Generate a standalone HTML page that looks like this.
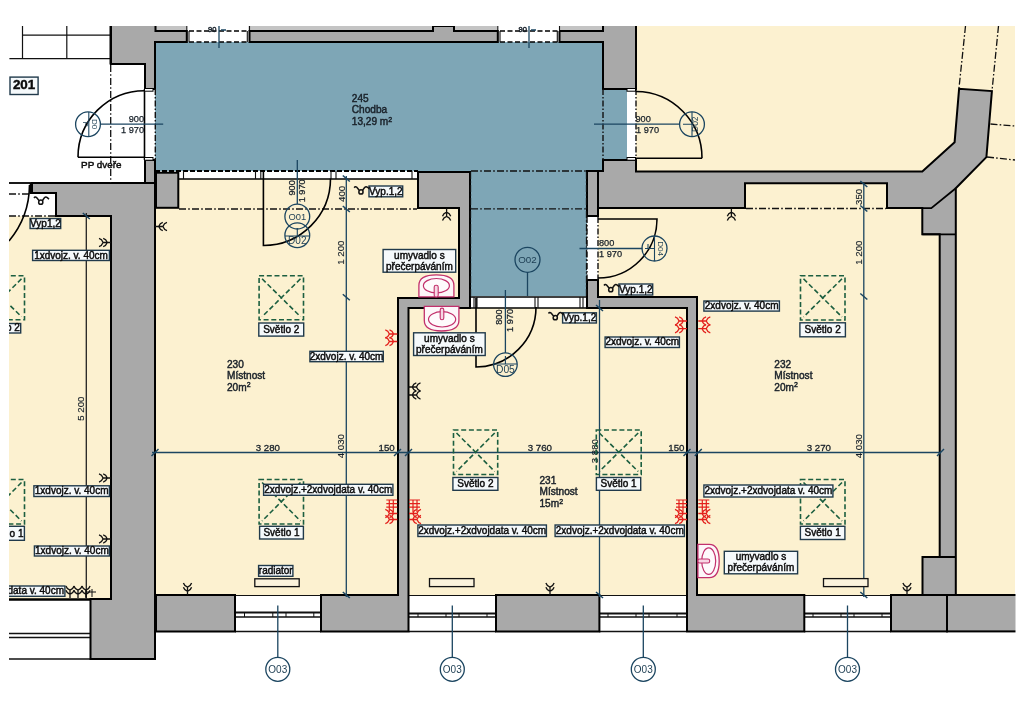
<!DOCTYPE html>
<html><head><meta charset="utf-8"><style>
html,body{margin:0;padding:0;background:#fff;overflow:hidden}
svg{display:block;will-change:transform}
text{font-family:"Liberation Sans",sans-serif}
</style></head><body>
<svg width="1024" height="724" viewBox="0 0 1024 724">
<rect width="1024" height="724" fill="#fff"/>
<!-- yellow rooms -->
<g fill="#fcf1d0">
<rect x="9" y="216" width="102" height="383"/>
<rect x="155" y="179" width="304" height="118"/>
<rect x="155" y="297" width="243" height="298"/>
<rect x="409" y="308" width="278" height="287"/>
<polygon points="598,208 745,208 745,183 887,183 887,208 940,208 940,595 697,595 697,297 598,297"/>
<rect x="636" y="26" width="379" height="146"/>
<rect x="955" y="140" width="60" height="455"/>
</g>
<!-- blue corridor -->
<g fill="#7ea6b6">
<rect x="155" y="42" width="448" height="129"/>
<rect x="470" y="171" width="117" height="125"/>
<rect x="603" y="89" width="24" height="71"/>
</g>
<!-- light band top -->
<rect x="155" y="26" width="448" height="5" fill="#c4c4c4"/>

<!-- top-left railing -->
<g stroke="#111" stroke-width="1.2" fill="none">
<line x1="22.5" y1="26" x2="22.5" y2="58.7"/>
<line x1="66.8" y1="26" x2="66.8" y2="58.7"/>
<line x1="22.5" y1="35.2" x2="110" y2="35.2"/>
<line x1="9.4" y1="58.7" x2="110" y2="58.7"/>
</g>
<line x1="110.8" y1="26" x2="110.8" y2="64.5" stroke="#000" stroke-width="2.6"/>
<!-- top windows -->
<g fill="#fff" stroke="none">
<rect x="186.5" y="26" width="62" height="16"/>
<rect x="497.5" y="26" width="62.5" height="16"/>
</g>
<g stroke="#000" stroke-width="1.6" stroke-dasharray="5 2.5" fill="none">
<line x1="189" y1="31" x2="247" y2="31"/>
<line x1="189" y1="42" x2="247" y2="42"/>
<line x1="500" y1="31" x2="558" y2="31"/>
<line x1="500" y1="42" x2="558" y2="42"/>
</g>
<g stroke="#111" stroke-width="1.1">
<line x1="186.8" y1="26" x2="186.8" y2="42"/><line x1="189" y1="31" x2="189" y2="42"/>
<line x1="247.3" y1="31" x2="247.3" y2="42"/><line x1="249.5" y1="26" x2="249.5" y2="42"/>
<line x1="497.8" y1="26" x2="497.8" y2="42"/><line x1="500" y1="31" x2="500" y2="42"/>
<line x1="557.3" y1="31" x2="557.3" y2="42"/><line x1="559.5" y1="26" x2="559.5" y2="42"/>
</g>
<!-- strip under corridor -->
<rect x="178" y="171" width="240" height="8" fill="#fff"/>
<line x1="155" y1="171" x2="418" y2="171" stroke="#000" stroke-width="2" stroke-dasharray="5 2"/>
<line x1="178" y1="179" x2="418" y2="179" stroke="#000" stroke-width="1.5"/>
<g stroke="#111" stroke-width="1.1">
<line x1="183.5" y1="171" x2="183.5" y2="179"/><line x1="255.5" y1="171" x2="255.5" y2="179"/>
<line x1="260.8" y1="171" x2="260.8" y2="179"/><line x1="331" y1="171" x2="331" y2="179"/>
<line x1="336" y1="171" x2="336" y2="179"/><line x1="412" y1="171" x2="412" y2="179"/>
</g>
<!-- lower corridor bottom strip -->
<rect x="470" y="297" width="117" height="11" fill="#fff"/>
<line x1="470" y1="297" x2="587" y2="297" stroke="#000" stroke-width="1.5"/>
<line x1="470" y1="308" x2="587" y2="308" stroke="#000" stroke-width="1.5"/>
<g stroke="#111" stroke-width="1.1">
<line x1="474" y1="297" x2="474" y2="308"/><line x1="477" y1="297" x2="477" y2="308"/>
<line x1="535" y1="297" x2="535" y2="308"/><line x1="538" y1="297" x2="538" y2="308"/>
<line x1="580" y1="297" x2="580" y2="308"/><line x1="583" y1="297" x2="583" y2="308"/>
</g>
<!-- bottom windows -->
<g fill="#fff" stroke="none">
<rect x="235" y="596" width="86" height="35.5"/>
<rect x="409" y="596" width="87" height="35.5"/>
<rect x="599.4" y="596" width="86" height="35.5"/>
<rect x="804.3" y="596" width="86.7" height="35.5"/>
</g>
<g stroke="#111" fill="none">
<path d="M235,595.5H321M409,595.5H496M599,595.5H686M804,595.5H891" stroke-width="1.2"/>
<path d="M235,612.5H321M409,613.5H496M599,613.5H686M804,613.5H891" stroke-width="2"/>
<path d="M235,617H321M409,617H496M599,617H686M804,617H891" stroke-width="1.5"/>
<path d="M235,631.5H321M409,631.5H496M599,631.5H686M804,631.5H891" stroke-width="1.5"/>
<path d="M9,633.5H90M9,637.5H90" stroke-width="1.3"/>
<path d="M9,659H90" stroke-width="1.5"/>
<path d="M244.5,613V617M272.8,613V617M286,613V617M313.8,613V617M418,613V617M446,613V617M459,613V617M487,613V617M608,613V617M636,613V617M649,613V617M677,613V617M813,613V617M841,613V617M854,613V617M882,613V617" stroke-width="1"/>
</g>
<!-- door jamb strips -->
<rect x="627" y="89" width="9" height="71" fill="#fff"/>
<rect x="145" y="89" width="10" height="71" fill="#fff"/>
<rect x="587" y="217" width="11" height="63" fill="#fff"/>

<!-- walls -->
<g fill="#a9a9a9" stroke="none">
<polygon points="111,26 155,26 155,31 186.8,31 186.8,42 155,42 155,89 145,89 145,64 111,64"/>
<polygon points="559.5,31 603,31 603,26 636,26 636,89 603,89 603,42 559.5,42"/>
</g>
<g fill="none" stroke="#000" stroke-width="2">
<path d="M111,26V64H145V89H155V42H186.8V31H155.5V26"/>
<path d="M559.5,31H603V26M559.5,31V42H603V89H636V26"/>
</g>
<g fill="#a9a9a9" stroke="#000" stroke-width="2">
<polygon points="249.5,31 433,31 433,26 454,26 454,31 497.8,31 497.8,42 249.5,42"/>
<polygon points="603,160 636,160 636,171.5 922.3,171.5 954.6,142.2 959.1,88.7 991.9,91.1 986.4,157.1 955.8,188.2 955.8,595 922.5,595 922.5,557 939.7,557 939.7,234.2 922.3,234.2 922.3,208.1 887,208.1 887,183.2 745,183.2 745,208 598,208 598,171 603,171"/>
<rect x="587" y="171" width="11" height="45"/>
<polygon points="32,183 155,183 155,659 90.5,659 90.5,599 111,599 111,216 56,216 56,193 32,193"/>
<rect x="156" y="172.7" width="22.3" height="35.1"/>
<rect x="145" y="160" width="10" height="23"/>
<rect x="156" y="595" width="79" height="36.5"/>
<polygon points="418,172 470,172 470,308 408.5,308 408.5,631.5 321,631.5 321,595 398,595 398,298 459,298 459,208 418,208"/>
<rect x="496" y="595" width="103.4" height="36.5"/>
<polygon points="587,280 598,280 598,297 697,297 697,595 804.3,595 804.3,631.4 687,631.4 687,308 587,308"/>
<rect x="891" y="595" width="56" height="36.4"/>
<rect x="947" y="595" width="75" height="36.4"/>
</g>

<g stroke="#000" stroke-width="1.8" fill="none">
<path d="M9,599.5H91" stroke-width="2.3"/>
<path d="M955.8,188.2L931.3,208.1H922.3M922.3,234.4H955.8M922.5,557H955.8M947,595V631.4"/>
<path d="M9,183H33"/>
</g>
<g stroke="#111" stroke-width="1.3" fill="none" stroke-dasharray="7 2.2 1.6 2.2">
<path d="M110.7,65V183"/>
<path d="M179,209H417"/>
<path d="M746,208.5H886"/>
<path d="M471,171H586M471,208.8H586"/>
<path d="M470.5,172V296M586.5,172V296"/>
<path d="M9,194H31M9,216H56"/>
<path d="M965.5,26L959,88M998.5,26L992,91M990.5,124L1015,126M987,157L1015,160"/>
</g>
<g stroke="#111" stroke-width="1.4" fill="none" stroke-dasharray="6 2 1.5 2">
<path d="M155.3,89V160M603,89V160M636,89V160M587,217V280M598,217V280"/>
</g>
<g stroke="#000" stroke-width="1.6" fill="none">
<path d="M78,157.2H144.5M78,157.2A66.5,66.5 0 0 1 144.5,90.7"/>
<path d="M144.5,89V160"/>
<path d="M636,158.2H702M636,91.5A66.5,66.5 0 0 1 702,158.2"/>
<path d="M263.4,172V245.5A67,67 0 0 0 330.5,178.5"/>
<path d="M598,219H657A59,59 0 0 1 598,278"/>
<path d="M476,298V367A60,60 0 0 0 536,307"/>
<path d="M29.5,185A88.4,88.4 0 0 1 9,241"/>
<path d="M30.5,183V194"/>
</g>
<g fill="#fff" stroke="#000" stroke-width="1">
<rect x="144.5" y="88.5" width="8.5" height="2.7"/><rect x="144.5" y="157.5" width="8.5" height="2.7"/>
<rect x="627" y="88.5" width="8.5" height="2.7"/><rect x="627" y="157.5" width="8.5" height="2.7"/>
</g>
<g stroke="#1b4560" stroke-width="1.3" fill="none">
<path d="M152,452.5H941"/>
<path d="M346.3,176V597"/>
<path d="M599.5,300V597"/>
<path d="M863.8,183V597"/>
<path d="M100.4,124.2H163.2"/>
<path d="M594,124.2H680"/>
<path d="M297.3,160V204"/>
<path d="M579.5,248.5H642.5"/>
<path d="M505.4,290V353"/>
<path d="M527.5,272V296"/>
<path d="M219,26V48M529,26V48M221,30H226M531,30H536"/>
<path d="M277.8,605.5V657.5M452.3,605.5V657.5M643.3,605.5V657.5M847.5,605.5V657.5"/>
</g>
<path d="M86.3,213V599" stroke="#222" stroke-width="1.3"/>
<g stroke="#1b4560" stroke-width="1.5">
<path d="M342.8,206L349.8,212"/>
<path d="M342.8,294.3L349.8,300.3"/>
<path d="M860.3,205.5L867.3,211.5"/>
<path d="M860.3,293.5L867.3,299.5"/>
<path d="M860.3,181L867.3,187"/>
<path d="M151.5,456.0L158.5,449.0"/>
<path d="M394.0,456.0L401.0,449.0"/>
<path d="M405.0,456.0L412.0,449.0"/>
<path d="M683.5,456.0L690.5,449.0"/>
<path d="M694.8,456.0L701.8,449.0"/>
<path d="M937.0,456.0L944.0,449.0"/>
<path d="M342.8,592L349.8,598"/>
<path d="M596.0,592L603.0,598"/>
<path d="M860.3,592L867.3,598"/>
<path d="M596.0,305L603.0,311"/>
<path d="M342.8,175.5L349.8,181.5"/>
<path d="M82.8,213L89.8,219"/>
</g>
<text x="280" y="450.7" font-size="9.7" text-anchor="end" fill="#172029" stroke="#172029" stroke-width="0.3">3 280</text>
<text x="394.7" y="450.7" font-size="9.7" text-anchor="end" fill="#172029" stroke="#172029" stroke-width="0.3">150</text>
<text x="552" y="450.7" font-size="9.7" text-anchor="end" fill="#172029" stroke="#172029" stroke-width="0.3">3 760</text>
<text x="684.5" y="450.7" font-size="9.7" text-anchor="end" fill="#172029" stroke="#172029" stroke-width="0.3">150</text>
<text x="831" y="450.7" font-size="9.7" text-anchor="end" fill="#172029" stroke="#172029" stroke-width="0.3">3 270</text>
<text x="344.5" y="458.3" font-size="9.7" text-anchor="start" fill="#172029" stroke="#172029" stroke-width="0.15" transform="rotate(-90 344.5 458.3)">4 030</text>
<text x="598" y="463.3" font-size="9.7" text-anchor="start" fill="#172029" stroke="#172029" stroke-width="0.15" transform="rotate(-90 598 463.3)">3 880</text>
<text x="861.8" y="458.3" font-size="9.7" text-anchor="start" fill="#172029" stroke="#172029" stroke-width="0.15" transform="rotate(-90 861.8 458.3)">4 030</text>
<text x="344.5" y="202" font-size="9.7" text-anchor="start" fill="#172029" stroke="#172029" stroke-width="0.15" transform="rotate(-90 344.5 202)">400</text>
<text x="344.5" y="264.8" font-size="9.7" text-anchor="start" fill="#172029" stroke="#172029" stroke-width="0.15" transform="rotate(-90 344.5 264.8)">1 200</text>
<text x="861.8" y="205" font-size="9.7" text-anchor="start" fill="#172029" stroke="#172029" stroke-width="0.15" transform="rotate(-90 861.8 205)">350</text>
<text x="861.8" y="264.8" font-size="9.7" text-anchor="start" fill="#172029" stroke="#172029" stroke-width="0.15" transform="rotate(-90 861.8 264.8)">1 200</text>
<text x="84" y="420.8" font-size="9.7" text-anchor="start" fill="#172029" stroke="#172029" stroke-width="0.15" transform="rotate(-90 84 420.8)">5 200</text>
<text x="144" y="121.7" font-size="9.2" text-anchor="end" fill="#172029" stroke="#172029" stroke-width="0.25">900</text>
<text x="144" y="132.9" font-size="9.2" text-anchor="end" fill="#172029" stroke="#172029" stroke-width="0.25">1 970</text>
<text x="635.5" y="121.7" font-size="9.2" text-anchor="start" fill="#172029" stroke="#172029" stroke-width="0.25">900</text>
<text x="636" y="132.7" font-size="9.2" text-anchor="start" fill="#172029" stroke="#172029" stroke-width="0.25">1 970</text>
<text x="599" y="245.5" font-size="9.2" text-anchor="start" fill="#172029" stroke="#172029" stroke-width="0.25">800</text>
<text x="599" y="256.5" font-size="9.2" text-anchor="start" fill="#172029" stroke="#172029" stroke-width="0.25">1 970</text>
<text x="294.5" y="195.5" font-size="9.2" text-anchor="start" fill="#172029" stroke="#172029" stroke-width="0.25" transform="rotate(-90 294.5 195.5)">900</text>
<text x="305" y="202.3" font-size="9.2" text-anchor="start" fill="#172029" stroke="#172029" stroke-width="0.25" transform="rotate(-90 305 202.3)">1 970</text>
<text x="502" y="324.8" font-size="9.2" text-anchor="start" fill="#172029" stroke="#172029" stroke-width="0.25" transform="rotate(-90 502 324.8)">800</text>
<text x="513" y="332" font-size="9.2" text-anchor="start" fill="#172029" stroke="#172029" stroke-width="0.25" transform="rotate(-90 513 332)">1 970</text>
<text x="208" y="32" font-size="7.5" text-anchor="start" fill="#172029" stroke="#172029" stroke-width="0.45">90</text>
<text x="518.5" y="32" font-size="7.5" text-anchor="start" fill="#172029" stroke="#172029" stroke-width="0.45">90</text>
<circle cx="297.3" cy="216.6" r="12.4" fill="none" stroke="#1b4560" stroke-width="1.3"/>
<text x="297.3" y="220.0" font-size="9.4" text-anchor="middle" fill="#1c3d52" stroke="#1c3d52" stroke-width="0">O01</text>
<circle cx="297.3" cy="235.3" r="12.4" fill="none" stroke="#1b4560" stroke-width="1.3"/>
<text x="297.3" y="244.3" font-size="10" text-anchor="middle" fill="#1c3d52" stroke="#1c3d52" stroke-width="0">D02</text>
<path d="M285,236H309.5M297.3,228V236" stroke="#1b4560" stroke-width="1.1"/>
<circle cx="527.5" cy="259.8" r="12.5" fill="none" stroke="#1b4560" stroke-width="1.3"/>
<text x="527.5" y="263.2" font-size="9.8" text-anchor="middle" fill="#1c3d52" stroke="#1c3d52" stroke-width="0">O02</text>
<circle cx="505.4" cy="364.6" r="11.8" fill="none" stroke="#1b4560" stroke-width="1.3"/>
<path d="M494,364H517M505.4,356V364" stroke="#1b4560" stroke-width="1.1"/>
<text x="505.4" y="373" font-size="10.3" text-anchor="middle" fill="#1c3d52" stroke="#1c3d52" stroke-width="0">D05</text>
<circle cx="654.5" cy="248.5" r="12.5" fill="none" stroke="#1b4560" stroke-width="1.3"/>
<path d="M654.5,236.1V260.9M645,248.5H654.5M648,244V248.5" stroke="#1b4560" stroke-width="1.1"/>
<text x="657.8" y="248.5" font-size="8" text-anchor="middle" fill="#1c3d52" stroke="#1c3d52" stroke-width="0" transform="rotate(90 657.8 248.5)">D04</text>
<circle cx="88" cy="124.2" r="12.4" fill="none" stroke="#1b4560" stroke-width="1.3"/>
<path d="M88.8,112V136.4" stroke="#1b4560" stroke-width="1.1"/>
<text x="82.5" y="124.2" font-size="7.5" text-anchor="middle" fill="#1c3d52" stroke="#1c3d52" stroke-width="0" transform="rotate(90 82.5 124.2)">P</text>
<text x="92" y="124.2" font-size="8" text-anchor="middle" fill="#1c3d52" stroke="#1c3d52" stroke-width="0" transform="rotate(90 92 124.2)">D0</text>
<circle cx="692" cy="124.2" r="12.4" fill="none" stroke="#1b4560" stroke-width="1.3"/>
<path d="M692,111.8V136.6M683,124.2H692" stroke="#1b4560" stroke-width="1.1"/>
<text x="698.3" y="124.2" font-size="8.5" text-anchor="middle" fill="#1c3d52" stroke="#1c3d52" stroke-width="0" transform="rotate(-90 698.3 124.2)">D02</text>
<circle cx="277.8" cy="669.3" r="12" fill="#fff" stroke="#1b4560" stroke-width="1.3"/>
<text x="277.8" y="672.8" font-size="10" text-anchor="middle" fill="#1c3d52" stroke="#1c3d52" stroke-width="0">O03</text>
<circle cx="452.3" cy="669.3" r="12" fill="#fff" stroke="#1b4560" stroke-width="1.3"/>
<text x="452.3" y="672.8" font-size="10" text-anchor="middle" fill="#1c3d52" stroke="#1c3d52" stroke-width="0">O03</text>
<circle cx="643.3" cy="669.3" r="12" fill="#fff" stroke="#1b4560" stroke-width="1.3"/>
<text x="643.3" y="672.8" font-size="10" text-anchor="middle" fill="#1c3d52" stroke="#1c3d52" stroke-width="0">O03</text>
<circle cx="847.5" cy="669.3" r="12" fill="#fff" stroke="#1b4560" stroke-width="1.3"/>
<text x="847.5" y="672.8" font-size="10" text-anchor="middle" fill="#1c3d52" stroke="#1c3d52" stroke-width="0">O03</text>
<g fill="none" stroke="#1c5f40" stroke-width="1.6" stroke-dasharray="5 2.7"><rect x="259.1" y="275.8" width="44.39999999999998" height="43.89999999999998"/><line x1="262.1" y1="278.8" x2="300.5" y2="316.7"/><line x1="300.5" y1="278.8" x2="262.1" y2="316.7"/></g>
<g fill="none" stroke="#1c5f40" stroke-width="1.6" stroke-dasharray="5 2.7"><rect x="259.1" y="479.5" width="44.39999999999998" height="44.5"/><line x1="262.1" y1="482.5" x2="300.5" y2="521"/><line x1="300.5" y1="482.5" x2="262.1" y2="521"/></g>
<g fill="none" stroke="#1c5f40" stroke-width="1.6" stroke-dasharray="5 2.7"><rect x="453.5" y="430" width="44.19999999999999" height="44.5"/><line x1="456.5" y1="433" x2="494.7" y2="471.5"/><line x1="494.7" y1="433" x2="456.5" y2="471.5"/></g>
<g fill="none" stroke="#1c5f40" stroke-width="1.6" stroke-dasharray="5 2.7"><rect x="596.3" y="430" width="44.90000000000009" height="44.5"/><line x1="599.3" y1="433" x2="638.2" y2="471.5"/><line x1="638.2" y1="433" x2="599.3" y2="471.5"/></g>
<g fill="none" stroke="#1c5f40" stroke-width="1.6" stroke-dasharray="5 2.7"><rect x="800.5" y="275.8" width="44.5" height="44.19999999999999"/><line x1="803.5" y1="278.8" x2="842" y2="317"/><line x1="842" y1="278.8" x2="803.5" y2="317"/></g>
<g fill="none" stroke="#1c5f40" stroke-width="1.6" stroke-dasharray="5 2.7"><rect x="800.5" y="479.5" width="44.5" height="44.5"/><line x1="803.5" y1="482.5" x2="842" y2="521"/><line x1="842" y1="482.5" x2="803.5" y2="521"/></g>
<g fill="none" stroke="#1c5f40" stroke-width="1.6" stroke-dasharray="5 2.7"><rect x="-20" y="275.8" width="44.5" height="43.89999999999998"/><line x1="-17" y1="278.8" x2="21.5" y2="316.7"/><line x1="21.5" y1="278.8" x2="-17" y2="316.7"/></g>
<g fill="none" stroke="#1c5f40" stroke-width="1.6" stroke-dasharray="5 2.7"><rect x="-20" y="479.5" width="44.5" height="44.5"/><line x1="-17" y1="482.5" x2="21.5" y2="521"/><line x1="21.5" y1="482.5" x2="-17" y2="521"/></g>
<text x="351.8" y="101.8" font-size="10.1" text-anchor="start" fill="#1a222a" stroke="#1a222a" stroke-width="0.45">245</text>
<text x="351.8" y="113.4" font-size="10.1" text-anchor="start" fill="#1a222a" stroke="#1a222a" stroke-width="0.45">Chodba</text>
<text x="351.8" y="125.0" font-size="10.1" fill="#1a222a" stroke="#1a222a" stroke-width="0.45">13,29 m<tspan font-size="7" dy="-3.5">2</tspan></text>
<text x="227" y="367.5" font-size="10.1" text-anchor="start" fill="#1a222a" stroke="#1a222a" stroke-width="0.45">230</text>
<text x="227" y="379.1" font-size="10.1" text-anchor="start" fill="#1a222a" stroke="#1a222a" stroke-width="0.45">Místnost</text>
<text x="227" y="390.7" font-size="10.1" fill="#1a222a" stroke="#1a222a" stroke-width="0.45">20m<tspan font-size="7" dy="-3.5">2</tspan></text>
<text x="539.5" y="483.8" font-size="10.1" text-anchor="start" fill="#1a222a" stroke="#1a222a" stroke-width="0.45">231</text>
<text x="539.5" y="495.4" font-size="10.1" text-anchor="start" fill="#1a222a" stroke="#1a222a" stroke-width="0.45">Místnost</text>
<text x="539.5" y="507.0" font-size="10.1" fill="#1a222a" stroke="#1a222a" stroke-width="0.45">15m<tspan font-size="7" dy="-3.5">2</tspan></text>
<text x="774.3" y="367.5" font-size="10.1" text-anchor="start" fill="#1a222a" stroke="#1a222a" stroke-width="0.45">232</text>
<text x="774.3" y="379.1" font-size="10.1" text-anchor="start" fill="#1a222a" stroke="#1a222a" stroke-width="0.45">Místnost</text>
<text x="774.3" y="390.7" font-size="10.1" fill="#1a222a" stroke="#1a222a" stroke-width="0.45">20m<tspan font-size="7" dy="-3.5">2</tspan></text>
<rect x="10.00" y="77.10" width="28.10" height="17.40" fill="#f5f9fb" stroke="#213a4b" stroke-width="1.4"/>
<text x="24.05" y="89.0" font-size="13.4" text-anchor="middle" fill="#0c0c0c" stroke="#0c0c0c" stroke-width="0.45" font-weight="bold">201</text>
<rect x="30.10" y="218.50" width="30.60" height="10.00" fill="#f5f9fb" stroke="#213a4b" stroke-width="1.4"/>
<text x="45.4" y="226.7" font-size="10" text-anchor="middle" fill="#0c0c0c" stroke="#0c0c0c" stroke-width="0.45">Vyp1,2</text>
<rect x="32.60" y="250.30" width="76.80" height="10.20" fill="#f5f9fb" stroke="#213a4b" stroke-width="1.4"/>
<text x="71.0" y="258.6" font-size="10" text-anchor="middle" fill="#0c0c0c" stroke="#0c0c0c" stroke-width="0.45">1xdvojz. v. 40cm</text>
<rect x="33.90" y="485.80" width="75.50" height="10.70" fill="#f5f9fb" stroke="#213a4b" stroke-width="1.4"/>
<text x="71.65" y="494.35" font-size="10" text-anchor="middle" fill="#0c0c0c" stroke="#0c0c0c" stroke-width="0.45">1xdvojz. v. 40cm</text>
<rect x="34.40" y="546.00" width="75.00" height="10.00" fill="#f5f9fb" stroke="#213a4b" stroke-width="1.4"/>
<text x="71.9" y="554.2" font-size="10" text-anchor="middle" fill="#0c0c0c" stroke="#0c0c0c" stroke-width="0.45">1xdvojz. v. 40cm</text>
<rect x="-9.40" y="586.00" width="74.30" height="10.30" fill="#f5f9fb" stroke="#213a4b" stroke-width="1.4"/>
<text x="64.0" y="594.35" font-size="10" text-anchor="end" fill="#0c0c0c" stroke="#0c0c0c" stroke-width="0.45">2xdvojz.+2xdvojdata v. 40cm</text>
<rect x="-29.40" y="323.50" width="50.10" height="9.50" fill="#f5f9fb" stroke="#213a4b" stroke-width="1.4"/>
<text x="19.8" y="331.45" font-size="10" text-anchor="end" fill="#0c0c0c" stroke="#0c0c0c" stroke-width="0.45">Světlo 2</text>
<rect x="-29.40" y="526.30" width="53.80" height="14.00" fill="#f5f9fb" stroke="#213a4b" stroke-width="1.4"/>
<text x="23.5" y="536.5" font-size="10" text-anchor="end" fill="#0c0c0c" stroke="#0c0c0c" stroke-width="0.45">Světlo 1</text>
<rect x="369.00" y="186.00" width="33.70" height="10.80" fill="#f5f9fb" stroke="#213a4b" stroke-width="1.4"/>
<text x="385.85" y="194.6" font-size="10" text-anchor="middle" fill="#0c0c0c" stroke="#0c0c0c" stroke-width="0.45">Vyp.1,2</text>
<rect x="383.10" y="249.50" width="72.60" height="22.70" fill="#f5f9fb" stroke="#213a4b" stroke-width="1.4"/>
<text x="419.4" y="258.55" font-size="10" text-anchor="middle" fill="#0c0c0c" stroke="#0c0c0c" stroke-width="0.45">umyvadlo s</text>
<text x="419.4" y="269.55" font-size="10" text-anchor="middle" fill="#0c0c0c" stroke="#0c0c0c" stroke-width="0.45">přečerpáváním</text>
<rect x="258.80" y="323.00" width="44.90" height="13.10" fill="#f5f9fb" stroke="#213a4b" stroke-width="1.4"/>
<text x="281.25" y="332.75" font-size="10" text-anchor="middle" fill="#0c0c0c" stroke="#0c0c0c" stroke-width="0.45">Světlo 2</text>
<rect x="309.90" y="351.30" width="73.40" height="10.40" fill="#f5f9fb" stroke="#213a4b" stroke-width="1.4"/>
<text x="346.6" y="359.7" font-size="10" text-anchor="middle" fill="#0c0c0c" stroke="#0c0c0c" stroke-width="0.45">2xdvojz. v. 40cm</text>
<rect x="413.60" y="332.80" width="71.60" height="22.70" fill="#f5f9fb" stroke="#213a4b" stroke-width="1.4"/>
<text x="449.4" y="341.85" font-size="10" text-anchor="middle" fill="#0c0c0c" stroke="#0c0c0c" stroke-width="0.45">umyvadlo s</text>
<text x="449.4" y="352.85" font-size="10" text-anchor="middle" fill="#0c0c0c" stroke="#0c0c0c" stroke-width="0.45">přečerpáváním</text>
<rect x="263.60" y="484.30" width="129.30" height="11.00" fill="#f5f9fb" stroke="#213a4b" stroke-width="1.4"/>
<text x="328.25" y="493.0" font-size="10" text-anchor="middle" fill="#0c0c0c" stroke="#0c0c0c" stroke-width="0.45">2xdvojz.+2xdvojdata v. 40cm</text>
<rect x="259.60" y="526.30" width="43.80" height="12.70" fill="#f5f9fb" stroke="#213a4b" stroke-width="1.4"/>
<text x="281.5" y="535.85" font-size="10" text-anchor="middle" fill="#0c0c0c" stroke="#0c0c0c" stroke-width="0.45">Světlo 1</text>
<rect x="258.60" y="565.50" width="34.30" height="10.80" fill="#f5f9fb" stroke="#213a4b" stroke-width="1.4"/>
<text x="275.75" y="574.1" font-size="10" text-anchor="middle" fill="#0c0c0c" stroke="#0c0c0c" stroke-width="0.45">radiator</text>
<rect x="452.90" y="477.50" width="45.00" height="12.80" fill="#f5f9fb" stroke="#213a4b" stroke-width="1.4"/>
<text x="475.4" y="487.1" font-size="10" text-anchor="middle" fill="#0c0c0c" stroke="#0c0c0c" stroke-width="0.45">Světlo 2</text>
<rect x="596.40" y="477.50" width="44.30" height="12.80" fill="#f5f9fb" stroke="#213a4b" stroke-width="1.4"/>
<text x="618.55" y="487.1" font-size="10" text-anchor="middle" fill="#0c0c0c" stroke="#0c0c0c" stroke-width="0.45">Světlo 1</text>
<rect x="417.90" y="525.00" width="128.50" height="11.50" fill="#f5f9fb" stroke="#213a4b" stroke-width="1.4"/>
<text x="482.15" y="533.95" font-size="10" text-anchor="middle" fill="#0c0c0c" stroke="#0c0c0c" stroke-width="0.45">2xdvojz.+2xdvojdata v. 40cm</text>
<rect x="555.10" y="525.00" width="129.30" height="11.50" fill="#f5f9fb" stroke="#213a4b" stroke-width="1.4"/>
<text x="619.75" y="533.95" font-size="10" text-anchor="middle" fill="#0c0c0c" stroke="#0c0c0c" stroke-width="0.45">2xdvojz.+2xdvojdata v. 40cm</text>
<rect x="562.60" y="312.80" width="33.80" height="10.20" fill="#f5f9fb" stroke="#213a4b" stroke-width="1.4"/>
<text x="579.5" y="321.1" font-size="10" text-anchor="middle" fill="#0c0c0c" stroke="#0c0c0c" stroke-width="0.45">Vyp.1,2</text>
<rect x="605.10" y="337.00" width="74.30" height="10.50" fill="#f5f9fb" stroke="#213a4b" stroke-width="1.4"/>
<text x="642.25" y="345.45" font-size="10" text-anchor="middle" fill="#0c0c0c" stroke="#0c0c0c" stroke-width="0.45">2xdvojz. v. 40cm</text>
<rect x="618.90" y="284.00" width="33.80" height="11.00" fill="#f5f9fb" stroke="#213a4b" stroke-width="1.4"/>
<text x="635.8" y="292.7" font-size="10" text-anchor="middle" fill="#0c0c0c" stroke="#0c0c0c" stroke-width="0.45">Vyp.1,2</text>
<rect x="703.90" y="301.00" width="75.50" height="10.10" fill="#f5f9fb" stroke="#213a4b" stroke-width="1.4"/>
<text x="741.65" y="309.25" font-size="10" text-anchor="middle" fill="#0c0c0c" stroke="#0c0c0c" stroke-width="0.45">2xdvojz. v. 40cm</text>
<rect x="799.90" y="322.80" width="45.50" height="14.00" fill="#f5f9fb" stroke="#213a4b" stroke-width="1.4"/>
<text x="822.65" y="333.0" font-size="10" text-anchor="middle" fill="#0c0c0c" stroke="#0c0c0c" stroke-width="0.45">Světlo 2</text>
<rect x="703.90" y="485.00" width="129.00" height="12.00" fill="#f5f9fb" stroke="#213a4b" stroke-width="1.4"/>
<text x="768.4" y="494.2" font-size="10" text-anchor="middle" fill="#0c0c0c" stroke="#0c0c0c" stroke-width="0.45">2xdvojz.+2xdvojdata v. 40cm</text>
<rect x="800.40" y="526.30" width="44.50" height="13.20" fill="#f5f9fb" stroke="#213a4b" stroke-width="1.4"/>
<text x="822.65" y="536.1" font-size="10" text-anchor="middle" fill="#0c0c0c" stroke="#0c0c0c" stroke-width="0.45">Světlo 1</text>
<rect x="724.30" y="551.30" width="73.30" height="22.50" fill="#f5f9fb" stroke="#213a4b" stroke-width="1.4"/>
<text x="760.95" y="560.25" font-size="10" text-anchor="middle" fill="#0c0c0c" stroke="#0c0c0c" stroke-width="0.45">umyvadlo s</text>
<text x="760.95" y="571.25" font-size="10" text-anchor="middle" fill="#0c0c0c" stroke="#0c0c0c" stroke-width="0.45">přečerpáváním</text>
<text x="81.1" y="168.3" font-size="9.9" text-anchor="start" fill="#0c0c0c" stroke="#0c0c0c" stroke-width="0.45">PP dveře</text>
<g fill="#fbf3dc" stroke="#111" stroke-width="1.3">
<rect x="254.8" y="578.8" width="44.4" height="7.8"/>
<rect x="429.5" y="578.6" width="44.5" height="8.0"/>
<rect x="823.5" y="578.6" width="44.5" height="8.0"/>
</g>
<path d="M418.9,296.9V285.4Q418.9,274.9 436.4,274.9Q453.9,274.9 453.9,285.4V296.9Z" fill="#fdf6f9" stroke="#c2306c" stroke-width="1.3"/>
<ellipse cx="436.4" cy="285.7" rx="13.0" ry="7.199999999999989" fill="#fefafc" stroke="#c2306c" stroke-width="1.2"/>
<rect x="434.2" y="285.3" width="4.0" height="11.699999999999989" rx="1.8" fill="#f7d6e4" stroke="#c2306c" stroke-width="1.1"/>
<g transform="translate(0,638.4) scale(1,-1)">
<path d="M424.3,332V317.8Q424.3,307.4 441.6,307.4Q458.9,307.4 458.9,317.8V332Z" fill="#fdf6f9" stroke="#c2306c" stroke-width="1.3"/>
<ellipse cx="442.1" cy="319.04999999999995" rx="13.599999999999994" ry="7.650000000000006" fill="#fefafc" stroke="#c2306c" stroke-width="1.2"/>
<rect x="440.2" y="318.6" width="3.6000000000000227" height="11.699999999999989" rx="1.8" fill="#f7d6e4" stroke="#c2306c" stroke-width="1.1"/>
</g>
<g transform="rotate(90 708.2 561)">
<path d="M691.5,571.3V560.0Q691.5,550 708.2,550Q724.9,550 724.9,560.0V571.3Z" fill="#fdf6f9" stroke="#c2306c" stroke-width="1.3"/>
<ellipse cx="708.25" cy="560.5" rx="13.25" ry="7.0" fill="#fefafc" stroke="#c2306c" stroke-width="1.2"/>
<rect x="706.2" y="559.5" width="4.0" height="11.799999999999955" rx="1.8" fill="#f7d6e4" stroke="#c2306c" stroke-width="1.1"/>
</g>
<g transform="translate(446.6 208.5) rotate(180)" fill="none" stroke="#111" stroke-width="1.3"><path d="M0,0V-7.8M-4.1,-7.8Q-3.2,-4.9 0,-3.7Q3.2,-4.9 4.1,-7.8M-4.1,-12Q-3.2,-9.1 0,-7.9Q3.2,-9.1 4.1,-12"/></g>
<g transform="translate(731.4 208.5) rotate(180)" fill="none" stroke="#111" stroke-width="1.3"><path d="M0,0V-7.8M-4.1,-7.8Q-3.2,-4.9 0,-3.7Q3.2,-4.9 4.1,-7.8M-4.1,-12Q-3.2,-9.1 0,-7.9Q3.2,-9.1 4.1,-12"/></g>
<g transform="translate(111 242.5) rotate(-90)" fill="none" stroke="#111" stroke-width="1.3"><path d="M0,0V-7.8M-4.1,-7.8Q-3.2,-4.9 0,-3.7Q3.2,-4.9 4.1,-7.8M-4.1,-12Q-3.2,-9.1 0,-7.9Q3.2,-9.1 4.1,-12"/></g>
<g transform="translate(155 226.5) rotate(90)" fill="none" stroke="#111" stroke-width="1.3"><path d="M0,0V-7.8M-4.1,-7.8Q-3.2,-4.9 0,-3.7Q3.2,-4.9 4.1,-7.8M-4.1,-12Q-3.2,-9.1 0,-7.9Q3.2,-9.1 4.1,-12"/></g>
<g transform="translate(111 478) rotate(-90)" fill="none" stroke="#111" stroke-width="1.3"><path d="M0,0V-7.8M-4.1,-7.8Q-3.2,-4.9 0,-3.7Q3.2,-4.9 4.1,-7.8M-4.1,-12Q-3.2,-9.1 0,-7.9Q3.2,-9.1 4.1,-12"/></g>
<g transform="translate(111 539) rotate(-90)" fill="none" stroke="#111" stroke-width="1.3"><path d="M0,0V-7.8M-4.1,-7.8Q-3.2,-4.9 0,-3.7Q3.2,-4.9 4.1,-7.8M-4.1,-12Q-3.2,-9.1 0,-7.9Q3.2,-9.1 4.1,-12"/></g>
<g transform="translate(187.5 595) rotate(0)" fill="none" stroke="#111" stroke-width="1.3"><path d="M0,0V-7.8M-4.1,-7.8Q-3.2,-4.9 0,-3.7Q3.2,-4.9 4.1,-7.8M-4.1,-12Q-3.2,-9.1 0,-7.9Q3.2,-9.1 4.1,-12"/></g>
<g transform="translate(550 595) rotate(0)" fill="none" stroke="#111" stroke-width="1.3"><path d="M0,0V-7.8M-4.1,-7.8Q-3.2,-4.9 0,-3.7Q3.2,-4.9 4.1,-7.8M-4.1,-12Q-3.2,-9.1 0,-7.9Q3.2,-9.1 4.1,-12"/></g>
<g transform="translate(907 595) rotate(0)" fill="none" stroke="#111" stroke-width="1.3"><path d="M0,0V-7.8M-4.1,-7.8Q-3.2,-4.9 0,-3.7Q3.2,-4.9 4.1,-7.8M-4.1,-12Q-3.2,-9.1 0,-7.9Q3.2,-9.1 4.1,-12"/></g>
<g transform="translate(408.5 387) rotate(90)" fill="none" stroke="#111" stroke-width="1.3"><path d="M0,0V-7.8M-4.1,-7.8Q-3.2,-4.9 0,-3.7Q3.2,-4.9 4.1,-7.8M-4.1,-12Q-3.2,-9.1 0,-7.9Q3.2,-9.1 4.1,-12"/></g>
<g transform="translate(408.5 395) rotate(90)" fill="none" stroke="#111" stroke-width="1.3"><path d="M0,0V-7.8M-4.1,-7.8Q-3.2,-4.9 0,-3.7Q3.2,-4.9 4.1,-7.8M-4.1,-12Q-3.2,-9.1 0,-7.9Q3.2,-9.1 4.1,-12"/></g>
<g transform="translate(70 598) rotate(0)" fill="none" stroke="#111" stroke-width="1.3"><path d="M0,0V-7.8M-4.1,-7.8Q-3.2,-4.9 0,-3.7Q3.2,-4.9 4.1,-7.8M-4.1,-12Q-3.2,-9.1 0,-7.9Q3.2,-9.1 4.1,-12"/></g>
<g transform="translate(78 598) rotate(0)" fill="none" stroke="#111" stroke-width="1.3"><path d="M0,0V-7.8M-4.1,-7.8Q-3.2,-4.9 0,-3.7Q3.2,-4.9 4.1,-7.8M-4.1,-12Q-3.2,-9.1 0,-7.9Q3.2,-9.1 4.1,-12"/></g>
<g transform="translate(86 598) rotate(0)" fill="none" stroke="#111" stroke-width="1.3"><path d="M0,0V-7.8M-4.1,-7.8Q-3.2,-4.9 0,-3.7Q3.2,-4.9 4.1,-7.8M-4.1,-12Q-3.2,-9.1 0,-7.9Q3.2,-9.1 4.1,-12"/></g>
<path d="M86,589V597M92,589V597M86,592H96" stroke="#111" stroke-width="1" fill="none"/>
<path d="M397.3,500H386.3M397.3,503.6H386.3M397.3,507.2H386.3M393.3,500V512M389.3,500V512" stroke="#e3201c" stroke-width="1.2" fill="none"/>
<g transform="translate(397.3 513.5) rotate(-90)" fill="none" stroke="#e3201c" stroke-width="1.3"><path d="M0,0V-7.8M-4.1,-7.8Q-3.2,-4.9 0,-3.7Q3.2,-4.9 4.1,-7.8M-4.1,-12Q-3.2,-9.1 0,-7.9Q3.2,-9.1 4.1,-12"/></g>
<g transform="translate(397.3 519.5) rotate(-90)" fill="none" stroke="#e3201c" stroke-width="1.3"><path d="M0,0V-7.8M-4.1,-7.8Q-3.2,-4.9 0,-3.7Q3.2,-4.9 4.1,-7.8M-4.1,-12Q-3.2,-9.1 0,-7.9Q3.2,-9.1 4.1,-12"/></g>
<path d="M409,500H420M409,503.6H420M409,507.2H420M413,500V512M417,500V512" stroke="#e3201c" stroke-width="1.2" fill="none"/>
<g transform="translate(409 513.5) rotate(90)" fill="none" stroke="#e3201c" stroke-width="1.3"><path d="M0,0V-7.8M-4.1,-7.8Q-3.2,-4.9 0,-3.7Q3.2,-4.9 4.1,-7.8M-4.1,-12Q-3.2,-9.1 0,-7.9Q3.2,-9.1 4.1,-12"/></g>
<g transform="translate(409 519.5) rotate(90)" fill="none" stroke="#e3201c" stroke-width="1.3"><path d="M0,0V-7.8M-4.1,-7.8Q-3.2,-4.9 0,-3.7Q3.2,-4.9 4.1,-7.8M-4.1,-12Q-3.2,-9.1 0,-7.9Q3.2,-9.1 4.1,-12"/></g>
<path d="M687,500H676M687,503.6H676M687,507.2H676M683,500V512M679,500V512" stroke="#e3201c" stroke-width="1.2" fill="none"/>
<g transform="translate(687 513.5) rotate(-90)" fill="none" stroke="#e3201c" stroke-width="1.3"><path d="M0,0V-7.8M-4.1,-7.8Q-3.2,-4.9 0,-3.7Q3.2,-4.9 4.1,-7.8M-4.1,-12Q-3.2,-9.1 0,-7.9Q3.2,-9.1 4.1,-12"/></g>
<g transform="translate(687 519.5) rotate(-90)" fill="none" stroke="#e3201c" stroke-width="1.3"><path d="M0,0V-7.8M-4.1,-7.8Q-3.2,-4.9 0,-3.7Q3.2,-4.9 4.1,-7.8M-4.1,-12Q-3.2,-9.1 0,-7.9Q3.2,-9.1 4.1,-12"/></g>
<path d="M698.3,500H709.3M698.3,503.6H709.3M698.3,507.2H709.3M702.3,500V512M706.3,500V512" stroke="#e3201c" stroke-width="1.2" fill="none"/>
<g transform="translate(698.3 513.5) rotate(90)" fill="none" stroke="#e3201c" stroke-width="1.3"><path d="M0,0V-7.8M-4.1,-7.8Q-3.2,-4.9 0,-3.7Q3.2,-4.9 4.1,-7.8M-4.1,-12Q-3.2,-9.1 0,-7.9Q3.2,-9.1 4.1,-12"/></g>
<g transform="translate(698.3 519.5) rotate(90)" fill="none" stroke="#e3201c" stroke-width="1.3"><path d="M0,0V-7.8M-4.1,-7.8Q-3.2,-4.9 0,-3.7Q3.2,-4.9 4.1,-7.8M-4.1,-12Q-3.2,-9.1 0,-7.9Q3.2,-9.1 4.1,-12"/></g>
<g transform="translate(397.3 334) rotate(-90)" fill="none" stroke="#e3201c" stroke-width="1.3"><path d="M0,0V-7.8M-4.1,-7.8Q-3.2,-4.9 0,-3.7Q3.2,-4.9 4.1,-7.8M-4.1,-12Q-3.2,-9.1 0,-7.9Q3.2,-9.1 4.1,-12"/></g>
<g transform="translate(397.3 341.5) rotate(-90)" fill="none" stroke="#e3201c" stroke-width="1.3"><path d="M0,0V-7.8M-4.1,-7.8Q-3.2,-4.9 0,-3.7Q3.2,-4.9 4.1,-7.8M-4.1,-12Q-3.2,-9.1 0,-7.9Q3.2,-9.1 4.1,-12"/></g>
<g transform="translate(687 321) rotate(-90)" fill="none" stroke="#e3201c" stroke-width="1.3"><path d="M0,0V-7.8M-4.1,-7.8Q-3.2,-4.9 0,-3.7Q3.2,-4.9 4.1,-7.8M-4.1,-12Q-3.2,-9.1 0,-7.9Q3.2,-9.1 4.1,-12"/></g>
<g transform="translate(687 328.7) rotate(-90)" fill="none" stroke="#e3201c" stroke-width="1.3"><path d="M0,0V-7.8M-4.1,-7.8Q-3.2,-4.9 0,-3.7Q3.2,-4.9 4.1,-7.8M-4.1,-12Q-3.2,-9.1 0,-7.9Q3.2,-9.1 4.1,-12"/></g>
<g transform="translate(698.3 321) rotate(90)" fill="none" stroke="#e3201c" stroke-width="1.3"><path d="M0,0V-7.8M-4.1,-7.8Q-3.2,-4.9 0,-3.7Q3.2,-4.9 4.1,-7.8M-4.1,-12Q-3.2,-9.1 0,-7.9Q3.2,-9.1 4.1,-12"/></g>
<g transform="translate(698.3 328.7) rotate(90)" fill="none" stroke="#e3201c" stroke-width="1.3"><path d="M0,0V-7.8M-4.1,-7.8Q-3.2,-4.9 0,-3.7Q3.2,-4.9 4.1,-7.8M-4.1,-12Q-3.2,-9.1 0,-7.9Q3.2,-9.1 4.1,-12"/></g>
<g fill="none" stroke="#111" stroke-width="1.5" transform="translate(354.2 187.7)"><path d="M0,0Q1.2,-1.6 2.6,-0.4L5.2,2.7M8.3,2.7L10.4,-0.2Q11.8,-1.6 13.3,-0.4L15,1.1"/><circle cx="6.75" cy="4.2" r="2.1"/></g>
<g fill="none" stroke="#111" stroke-width="1.5" transform="translate(548.5 313.5)"><path d="M0,0Q1.2,-1.6 2.6,-0.4L5.2,2.7M8.3,2.7L10.4,-0.2Q11.8,-1.6 13.3,-0.4L15,1.1"/><circle cx="6.75" cy="4.2" r="2.1"/></g>
<g fill="none" stroke="#111" stroke-width="1.5" transform="translate(604 285.5)"><path d="M0,0Q1.2,-1.6 2.6,-0.4L5.2,2.7M8.3,2.7L10.4,-0.2Q11.8,-1.6 13.3,-0.4L15,1.1"/><circle cx="6.75" cy="4.2" r="2.1"/></g>
<g fill="none" stroke="#111" stroke-width="1.5" transform="translate(34 198)"><path d="M0,0Q1.2,-1.6 2.6,-0.4L5.2,2.7M8.3,2.7L10.4,-0.2Q11.8,-1.6 13.3,-0.4L15,1.1"/><circle cx="6.75" cy="4.2" r="2.1"/></g>
<g fill="#fff"><rect x="0" y="0" width="9" height="724"/><rect x="1015.5" y="0" width="9" height="724"/><rect x="0" y="0" width="1024" height="26"/></g>
</svg>
</body></html>
